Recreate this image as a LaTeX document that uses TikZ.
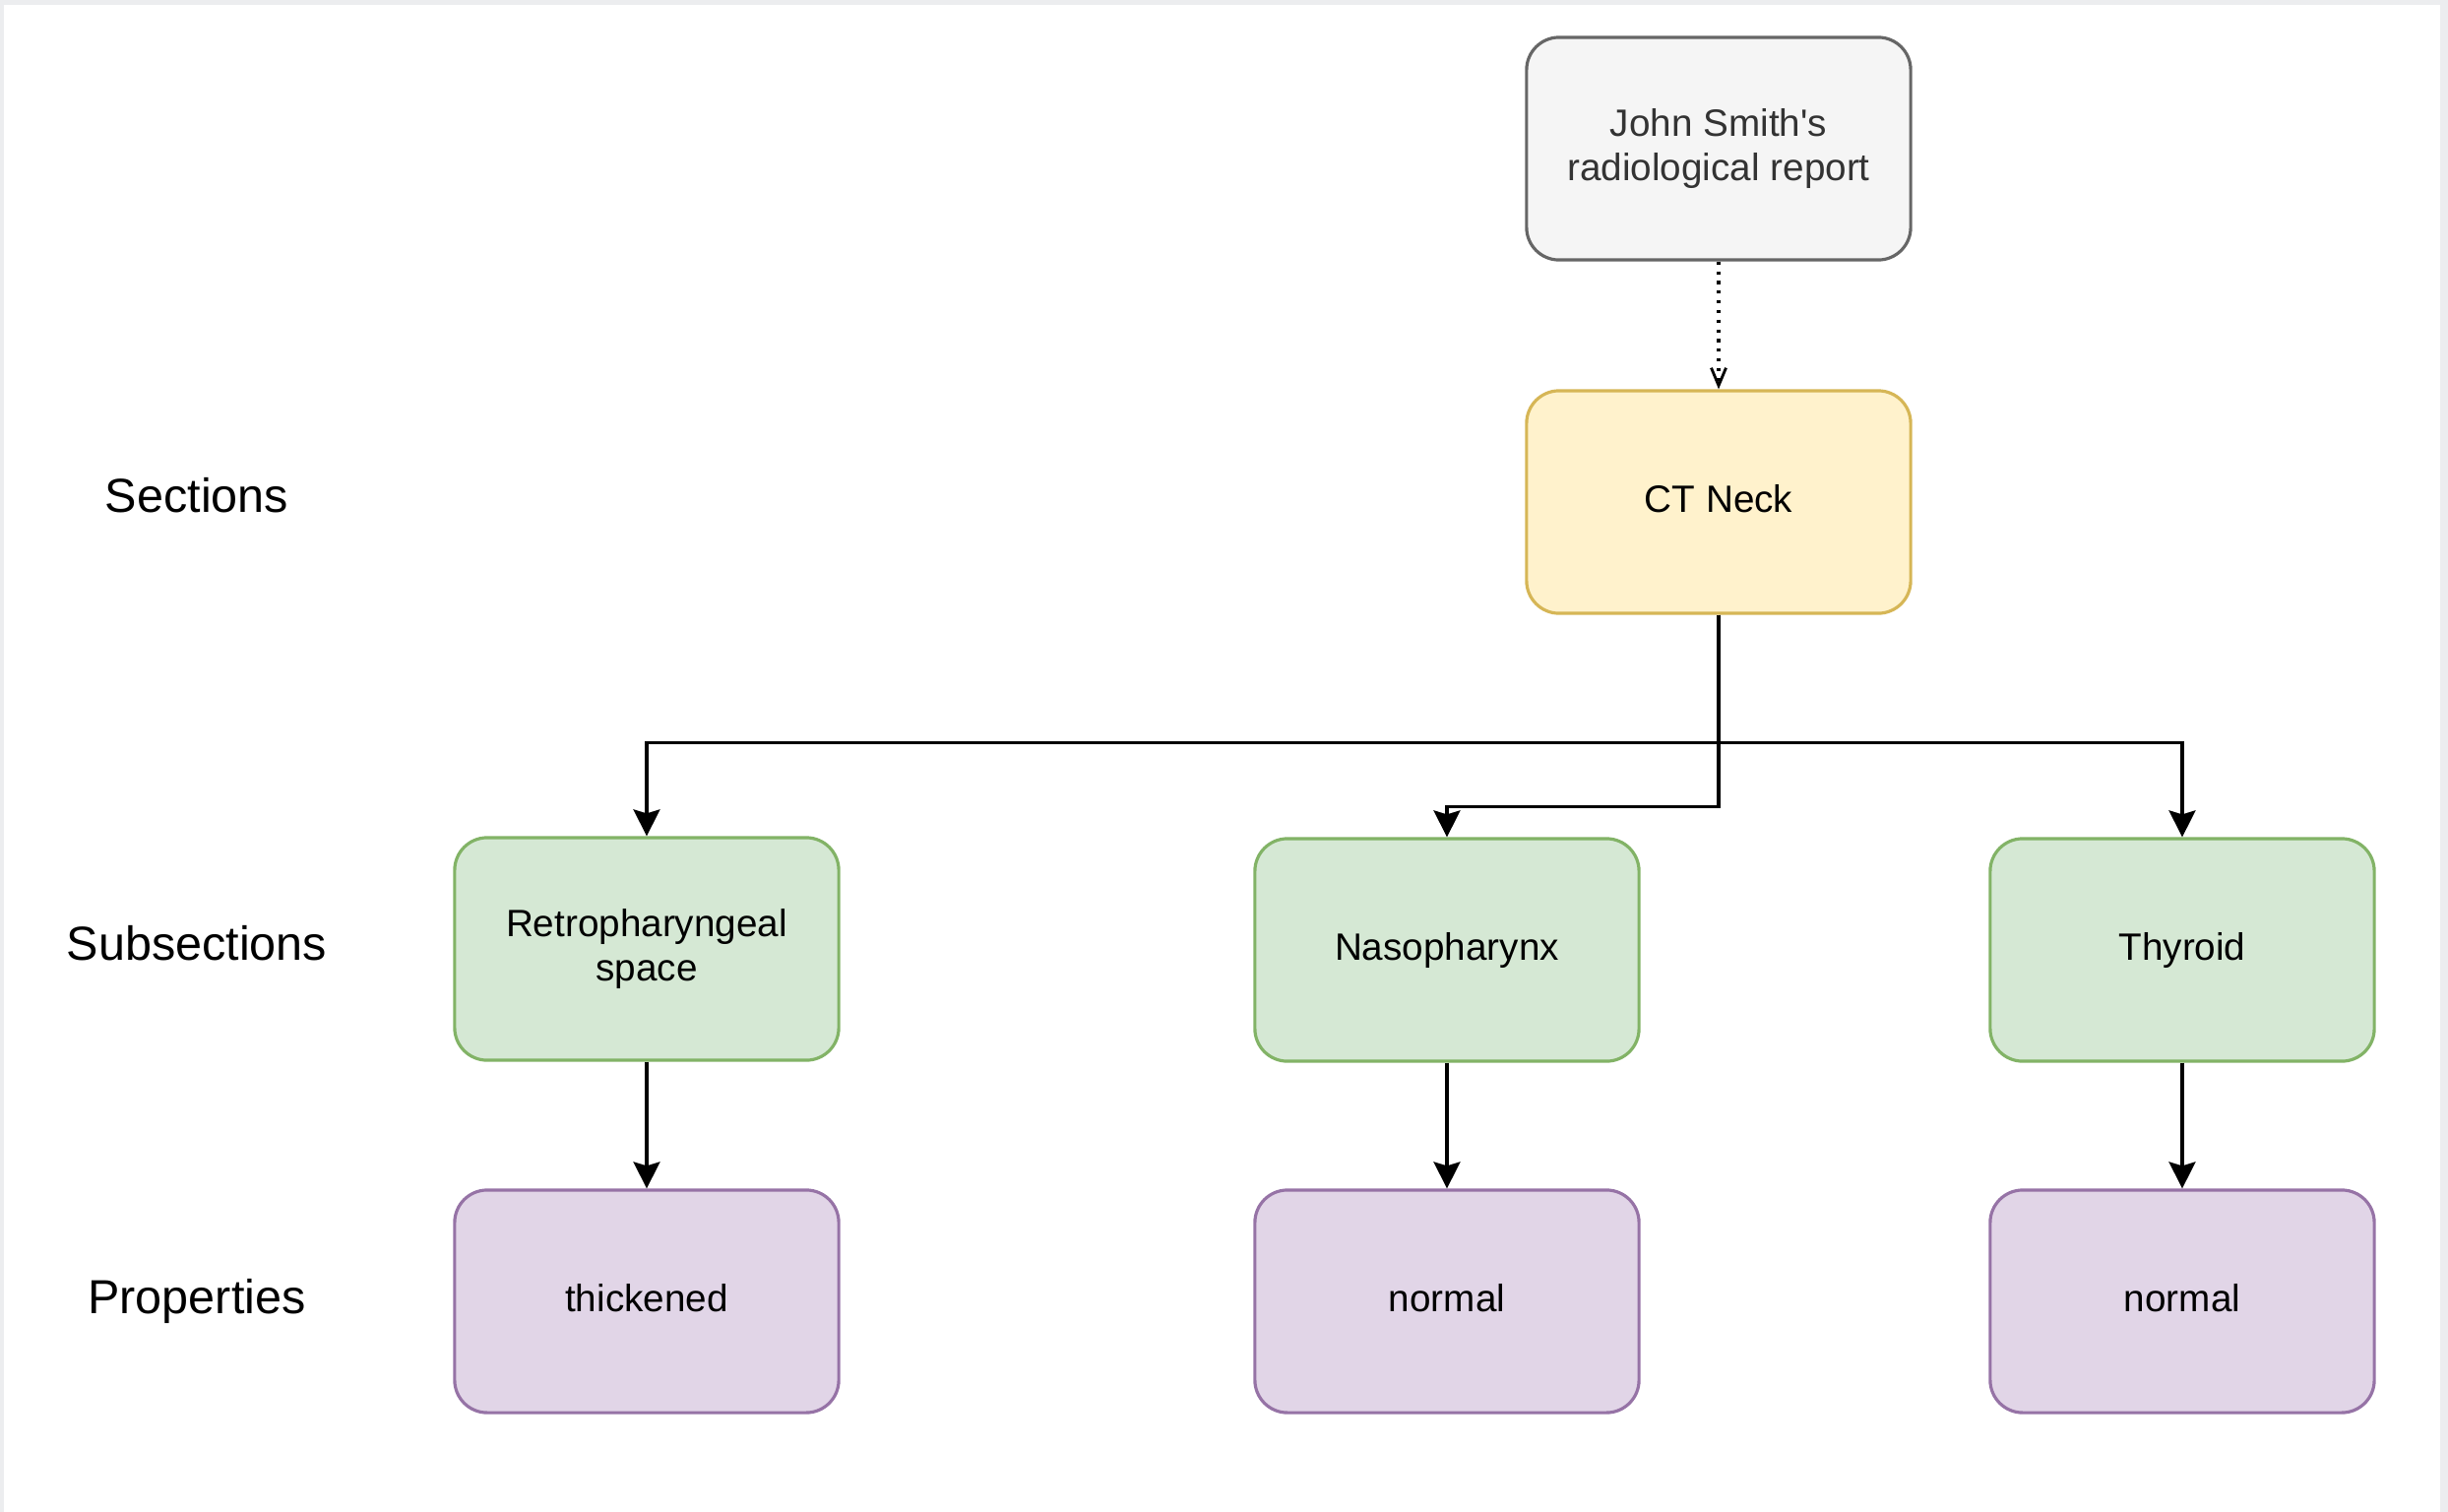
\documentclass[tikz,border=0pt]{standalone}
\usepackage{fontspec}
\setmainfont{Liberation Sans}
\usetikzlibrary{arrows.meta}
\definecolor{framegray}{HTML}{ECEDEF}
\definecolor{repfill}{HTML}{F5F5F5}
\definecolor{repdraw}{HTML}{666666}
\definecolor{reptext}{HTML}{333333}
\definecolor{secfill}{HTML}{FFF2CC}
\definecolor{secdraw}{HTML}{D6B656}
\definecolor{subfill}{HTML}{D5E8D4}
\definecolor{subdraw}{HTML}{82B366}
\definecolor{propfill}{HTML}{E1D5E7}
\definecolor{propdraw}{HTML}{9673A6}
\tikzset{
  box/.style={rectangle, rounded corners=0.33cm, minimum width=3.9cm,
    minimum height=2.26cm, line width=0.9pt, align=center, inner sep=0pt,
    font=\fontsize{11.0}{12.8}\selectfont},
  onel/.style={text depth=0.22em},
  repbox/.style={box, fill=repfill, draw=repdraw, text=reptext},
  secbox/.style={box, fill=secfill, draw=secdraw},
  subbox/.style={box, fill=subfill, draw=subdraw},
  propbox/.style={box, fill=propfill, draw=propdraw},
  rowlabel/.style={font=\fontsize{13.8}{16}\selectfont, inner sep=0pt},
  arr/.style={line width=0.9pt, -{Stealth[length=0.27cm, width=0.27cm, inset=0.04cm]}},
  dotarr/.style={line width=0.9pt, dash pattern=on 0.9pt off 1.9pt,
    -{Straight Barb[length=0.18cm, width=0.15cm, line width=0.8pt]}}
}
\begin{document}
\begin{tikzpicture}[x=0.01cm, y=-0.01cm]
\fill[framegray] (0,0) rectangle (2487,1536);
\fill[white] (4,5) rectangle (2479,1536);
\useasboundingbox (0,0) rectangle (2487,1536);

\node[repbox] (rep) at (1746,151) {John Smith\textquotesingle s\\radiological report};
\node[secbox, onel] (ct) at (1746,510) {CT Neck};

\node[subbox] (rps) at (657,964) {Retropharyngeal\\space};
\node[subbox, onel] (naso) at (1470,965) {Nasopharynx};
\node[subbox, onel] (thy) at (2217,965) {Thyroid};

\node[propbox, onel] (p1) at (657,1322) {thickened};
\node[propbox, onel] (p2) at (1470,1322) {normal};
\node[propbox, onel] (p3) at (2217,1322) {normal};

\node[rowlabel] (lsec) at (200,503) {Sections};
\node[rowlabel] (lsub) at (200,958) {Subsections};
\node[rowlabel] (lprop) at (200,1322) {Properties};

\draw[dotarr] (rep.south) -- (ct.north);
\draw[arr] (ct.south) -- ++(0,130) -| (rps.north);
\draw[arr] (ct.south) -- ++(0,130) -| (thy.north);
\draw[arr] (ct.south) -- ++(0,195) -| (naso.north);

\draw[arr] (rps.south) -- (p1.north);
\draw[arr] (naso.south) -- (p2.north);
\draw[arr] (thy.south) -- (p3.north);
\end{tikzpicture}
\end{document}
